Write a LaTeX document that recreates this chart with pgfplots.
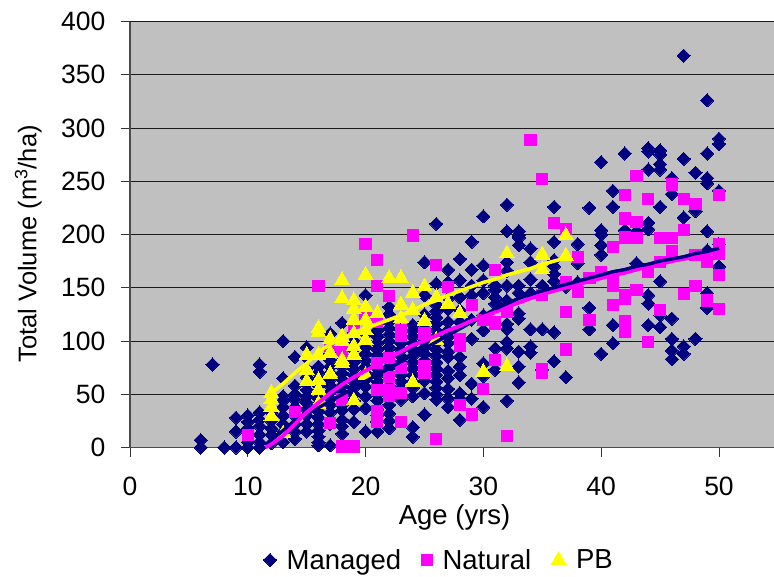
\documentclass[border=0pt]{standalone}
\usepackage{pgfplots}
\pgfplotsset{compat=1.18}
\usepackage{fontspec}
\setmainfont{Liberation Sans}
\definecolor{mnavy}{HTML}{000080}
\definecolor{mpink}{HTML}{FF00FF}
\definecolor{myell}{HTML}{FFFF00}
\definecolor{bggray}{HTML}{C0C0C0}
\begin{document}
\begin{tikzpicture}
\useasboundingbox (-130pt,-128.5pt) rectangle (644pt,447.5pt);
\begin{axis}[
  at={(0pt,0pt)}, anchor=south west,
  scale only axis, width=644pt, height=426pt,
  xmin=0, xmax=54.67, ymin=0, ymax=400,
  axis lines=left, axis line style={-, draw=black!70, line width=1.6pt},
  axis background/.style={fill=bggray},
  clip=false, clip marker paths=true,
  xtick={0,10,20,30,40,50}, ytick={0,50,100,150,200,250,300,350,400},
  ymajorgrids, grid style={draw=black!90, line width=0.9pt},
  tick align=outside, major tick length=9pt, tick style={draw=black!80, line width=0.8pt},
  /pgf/number format/assume math mode=true,
  tick label style={font=\fontsize{26.5}{30}\selectfont},
  xticklabel style={yshift=-17pt},
  yticklabel style={xshift=-12pt},
  xlabel={Age (yrs)}, ylabel={Total Volume (m\textsuperscript{3}/ha)},
  xlabel style={font=\fontsize{27.5}{30}\selectfont, at={(axis description cs:0.504,-0.165)}, anchor=center},
  ylabel style={font=\fontsize{25.5}{30}\selectfont, at={(axis description cs:-0.158,0.478)}, anchor=center, rotate=0},
  legend columns=3,
  legend style={draw=none, fill=none, at={(axis description cs:0.48,-0.264)}, anchor=center,
    font=\fontsize{27.5}{30}\selectfont,
    /tikz/every odd column/.append style={column sep=8pt},
    /tikz/every even column/.append style={column sep=18pt}},
  legend cell align=left,
]
\addplot[only marks, mark=square*, mark size=4.65pt, color=mnavy, mark options={rotate=45, draw=mnavy, line width=0pt}] coordinates {
(6,0)(6,7)(7,78)(8,0)(9,0)(9,15)(9,28)(10,0)(10,5)(10,18)(10,24)(10,30)
(11,0)(11,5)(11,12)(11,20)(11,26)(11,33)(11,71)(11,78)
(12,4)(12,12)(12,18)(12,25)(12,33)
(13,5)(13,15)(13,22)(13,30)(13,38)(13,44)(13,48)(13,65)(13,100)
(14,8)(14,15)(14,22)(14,30)(14,38)(14,45)(14,50)(14,58)(14,85)
(15,15)(15,22)(15,30)(15,36)(15,42)(15,48)(15,54)(15,60)(15,66)(15,74)(15,84)(15,94)
(16,2)(16,5)(16,10)(16,16)(16,22)(16,28)(16,34)(16,40)(16,46)(16,52)(16,58)(16,64)(16,70)(16,76)
(17,2)(17,22)(17,33)(17,40)(17,46)(17,52)(17,58)(17,64)(17,70)(17,76)(17,82)(17,88)(17,98)(17,107)
(18,13)(18,20)(18,26)(18,35)(18,40)(18,46)(18,52)(18,58)(18,64)(18,70)(18,76)(18,82)(18,92)(18,117)
(19,24)(19,36)(19,44)(19,50)(19,56)(19,62)(19,68)(19,74)(19,80)(19,86)(19,92)(19,100)(19,108)
(20,15)(20,37)(20,48)(20,57)(20,64)(20,70)(20,76)(20,82)(20,88)(20,94)(20,100)(20,106)(20,143)
(21,15)(21,24)(21,30)(21,36)(21,44)(21,50)(21,56)(21,62)(21,68)(21,74)(21,80)(21,86)(21,92)(21,98)(21,104)(21,110)(21,116)
(22,18)(22,25)(22,32)(22,40)(22,46)(22,52)(22,58)(22,64)(22,70)(22,76)(22,82)(22,88)(22,94)(22,100)(22,106)(22,112)(22,118)(22,125)(22,132)
(23,45)(23,50)(23,56)(23,62)(23,68)(23,74)(23,80)(23,86)(23,92)(23,98)(23,104)(23,110)
(24,10)(24,19)(24,48)(24,56)(24,62)(24,68)(24,74)(24,80)(24,86)(24,92)(24,98)(24,104)(24,110)(24,115)
(25,31)(25,51)(25,63)(25,70)(25,76)(25,82)(25,88)(25,94)(25,100)(25,106)(25,112)(25,118)(25,125)(25,143)(25,174)
(26,45)(26,50)(26,56)(26,62)(26,68)(26,74)(26,80)(26,86)(26,92)(26,98)(26,104)(26,110)(26,116)(26,122)(26,128)(26,134)(26,140)(26,154)(26,210)
(27,38)(27,46)(27,55)(27,65)(27,72)(27,85)(27,90)(27,98)(27,104)(27,110)(27,118)(27,130)(27,140)(27,155)(27,167)
(28,26)(28,46)(28,51)(28,68)(28,76)(28,85)(28,118)(28,129)(28,141)(28,157)(28,177)
(29,46)(29,60)(29,102)(29,120)(29,143)(29,152)(29,167)(29,193)
(30,38)(30,67)(30,79)(30,110)(30,124)(30,145)(30,157)(30,171)(30,217)
(31,73)(31,93)(31,135)(31,141)(31,148)(31,152)
(32,44)(32,93)(32,99)(32,111)(32,116)(32,138)(32,152)(32,166)(32,174)(32,203)(32,228)
(33,61)(33,76)(33,90)(33,121)(33,126)(33,145)(33,152)(33,190)(33,197)(33,199)(33,203)
(34,89)(34,95)(34,111)(34,145)(34,158)(34,174)(34,187)
(35,73)(35,111)(35,152)
(36,81)(36,108)(36,156)(36,163)(36,170)(36,176)(36,193)(36,226)
(37,66)(37,151)
(38,155)(38,173)(38,191)
(39,111)(39,131)(39,225)
(40,88)(40,181)(40,190)(40,200)(40,204)(40,268)
(41,98)(41,115)(41,226)(41,241)
(42,204)(42,276)
(43,173)(43,203)
(44,115)(44,135)(44,143)(44,205)(44,211)(44,261)(44,278)(44,281)
(45,113)(45,124)(45,156)(45,226)(45,261)(45,266)(45,275)(45,279)
(46,83)(46,91)(46,102)(46,121)(46,238)(46,253)
(47,88)(47,95)(47,216)(47,271)(47,368)
(48,102)(48,222)(48,258)
(49,131)(49,145)(49,185)(49,203)(49,248)(49,253)(49,276)(49,326)
(50,170)(50,191)(50,241)(50,285)(50,290)
};
\addlegendentry{Managed}
\addplot[only marks, mark=square*, mark size=5.6pt, color=mpink, mark options={draw=mpink, line width=0pt}] coordinates {
(10,12)(14,33)(16,152)(17,23)(17,95)(18,1)(18,45)(18,90)(19,1)(19,112)(20,123)(20,191)
(21,24)(21,34)(21,54)(21,79)(21,118)(21,152)(21,176)
(22,48)(22,54)(22,66)(22,84)(22,142)
(23,24)(23,51)(23,75)(23,105)(23,110)(24,199)
(25,70)(25,76)(25,107)(26,8)(26,171)(27,151)
(28,40)(28,95)(28,102)(29,31)(29,134)(30,55)(30,120)
(31,82)(31,116)(31,118)(31,167)(32,11)(32,127)
(34,289)(35,70)(35,74)(35,143)(35,252)(36,211)
(37,92)(37,127)(37,155)(37,205)(38,146)(38,179)(39,120)(39,159)
(40,165)(41,134)(41,152)(41,160)(41,188)
(42,109)(42,119)(42,140)(42,143)(42,197)(42,198)(42,215)(42,237)
(43,148)(43,197)(43,212)(43,255)(44,99)(44,165)(44,233)
(45,129)(45,174)(45,197)(46,184)(46,197)(46,247)
(47,144)(47,204)(47,233)(48,152)(48,181)(48,229)(49,138)(49,174)
(50,130)(50,162)(50,182)(50,191)(50,237)
};
\addlegendentry{Natural}
\addplot[only marks, mark=triangle*, mark size=8.6pt, color=myell, mark options={draw=myell, line width=0pt}] coordinates {
(12,29)(12,38)(12,45)(12,51)(13,13)
(15,62)(15,73)(15,87)(16,41)(16,54)(16,63)(16,87)(16,108)(16,112)
(17,69)(17,89)(17,102)(18,79)(18,82)(18,100)(18,104)(18,140)(18,157)
(19,44)(19,87)(19,95)(19,107)(19,120)(19,130)(19,138)
(20,68)(20,101)(20,110)(20,120)(20,132)(20,162)
(21,126)(22,159)(23,121)(23,134)(23,159)
(24,61)(24,129)(24,145)(25,119)(25,151)(26,101)(26,141)(27,135)(28,126)
(30,71)(32,76)(32,182)(35,167)(35,181)(37,180)(37,199)
};
\addlegendentry{PB}
\addplot[forget plot, no marks, color=myell, line width=3.6pt, line join=round] coordinates {
(12,51)(13,60)(14,70)(15,79)(16,90)(17,97)(18,102)(19,108)(20,112)(21,116)(22,120)(23,124)(24,129)(25,134)(26,138)(27,143)(28,147)(29,151)(30,155)(31,158)(32,162)(33,165)(34,168)(35,172)(36,175)(37,178)
};
\addplot[forget plot, no marks, color=mnavy, line width=3.4pt, line join=round] coordinates {
(12,7)(13,16)(14,25)(31,130)(32,135)(33,140)(34,144)(35,147)(36,150)(37,153)(38,156)(39,159)(40,162)(41,165)(42,167)(43,170)(44,172)(45,175)(46,177)(47,179)(48,182)(49,184)(50,187)
};
\addplot[forget plot, no marks, color=mpink, line width=3.8pt, line join=round] coordinates {
(11.5,0)(12,3)(13,11)(14,22)(15,33)(16,42)(17,51)(18,59)(19,66)(20,72)(21,78)(22,84)(23,90)(24,96)(25,100)(26,105)(27,110)(28,114)(29,119)(30,123)(31,127)
};
\addplot[forget plot, no marks, color=mpink, line width=3.8pt, line join=round] coordinates {
(31,127)(32,132)(33,136)(34,140)(35,144)(36,147)(37,150)(38,153)(39,156)(40,159)(41,162)(42,164)(43,167)(44,170)(45,172)(46,175)(47,177)(48,179)(49,181)(50,184)
};
\addplot[forget plot, no marks, color=mnavy, line width=3.2pt, line join=round] coordinates {
(31,130)(32,135)(33,140)(34,144)(35,147)(36,150)(37,153)(38,156)(39,159)(40,162)(41,165)(42,167)(43,170)(44,172)(45,175)(46,177)(47,179)(48,182)(49,184)(50,187)
};
\end{axis}
\end{tikzpicture}
\end{document}
